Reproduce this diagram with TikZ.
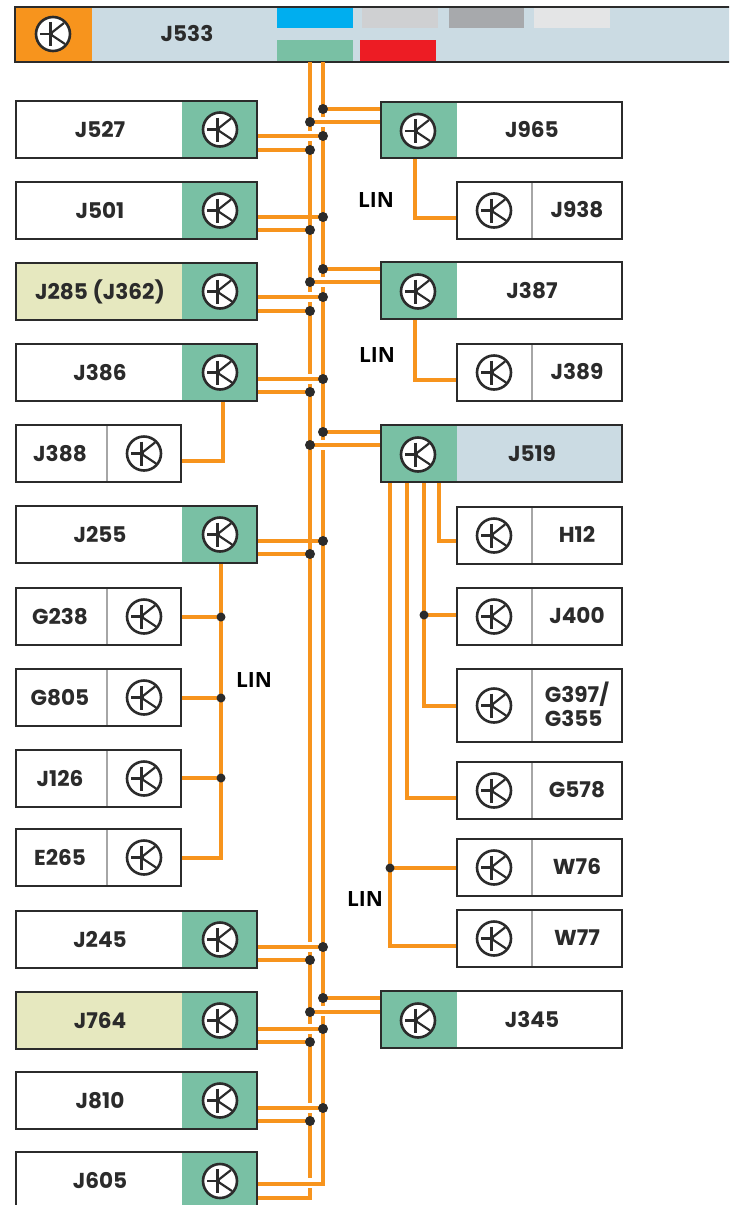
\documentclass[tikz,border=0pt]{standalone}
\usepackage{fontspec}
\setmainfont{Poppins}
\newfontfamily\linfont{Open Sans}
\definecolor{wire}{HTML}{F7941D}
\definecolor{grn}{HTML}{79C0A4}
\definecolor{pale}{HTML}{CBDBE3}
\definecolor{olive}{HTML}{E6E8BF}
\definecolor{ink}{HTML}{2B2B2B}
\definecolor{skyb}{HTML}{00AEEF}
\definecolor{redb}{HTML}{ED1C24}
\definecolor{gr1}{HTML}{CFD0D2}
\definecolor{gr2}{HTML}{A7A9AC}
\definecolor{gr3}{HTML}{E4E5E6}
\tikzset{
  wirel/.style={draw=wire,line width=3.6pt},
  frame/.style={draw=ink,line width=2.6pt},
  divline/.style={draw=gray!70,line width=2pt},
  lab/.style={font=\bfseries\fontsize{21.6}{24}\selectfont,text=ink,inner sep=0pt},
  linlab/.style={font=\linfont\bfseries\fontsize{21}{24}\selectfont,text=black,inner sep=0pt},
  dotj/.style={circle,fill=ink,inner sep=0pt,minimum size=10pt},
  dotk/.style={circle,fill=ink,inner sep=0pt,minimum size=9pt},
}
% \Tr{name}{x}{y}: transistor symbol
\newcommand{\Tr}[3]{%
  \node[circle,draw=ink,fill=white,line width=2.6pt,minimum size=34pt,inner sep=0pt] (#1) at (#2,#3) {};
  \draw[ink,line width=3pt] ([xshift=-3pt,yshift=12pt]#1.center) -- ([xshift=-3pt,yshift=-12pt]#1.center);
  \draw[ink,line width=2.2pt] ([xshift=-13pt]#1.center) -- ([xshift=0pt]#1.center);
  \draw[ink,line width=2.2pt] ([xshift=-3pt,yshift=0pt]#1.center) -- ([xshift=11pt,yshift=11pt]#1.center);
  \draw[ink,line width=2.2pt] ([xshift=-3pt,yshift=0pt]#1.center) -- ([xshift=12pt,yshift=-10pt]#1.center);
}
\newcommand{\LBig}[5]{%
  \fill[#5] (16,#3) rectangle (182,#4);
  \fill[grn] (182,#3) rectangle (257,#4);
  \path[frame] (16,#3) rectangle (257,#4);
  \node[lab] (n#1) at (100,{(#3+#4)/2}) {#2};
  \coordinate (b#1) at (257,{(#3+#4)/2});
  \Tr{t#1}{220}{{(#3+#4)/2}}
}
\newcommand{\RBig}[5]{%
  \fill[grn] (381,#3) rectangle (457,#4);
  \fill[#5] (457,#3) rectangle (622,#4);
  \path[frame] (381,#3) rectangle (622,#4);
  \node[lab] (n#1) at (532,{(#3+#4)/2}) {#2};
  \coordinate (b#1) at (381,{(#3+#4)/2});
  \Tr{t#1}{418}{{(#3+#4)/2+1}}
}
\newcommand{\LSmall}[4]{%
  \fill[white] (16,#3) rectangle (181,#4);
  \path[divline] (107,#3) -- (107,#4);
  \path[frame] (16,#3) rectangle (181,#4);
  \node[lab] (n#1) at (60,{(#3+#4)/2}) {#2};
  \coordinate (b#1) at (181,{(#3+#4)/2});
  \Tr{t#1}{144}{{(#3+#4)/2}}
}
\newcommand{\RSmall}[4]{%
  \fill[white] (457,#3) rectangle (622,#4);
  \path[divline] (532,#3) -- (532,#4);
  \path[frame] (457,#3) rectangle (622,#4);
  \node[lab,align=left] (n#1) at (577,{(#3+#4)/2-1}) {#2};
  \coordinate (b#1) at (457,{(#3+#4)/2});
  \Tr{t#1}{494}{{(#3+#4)/2}}
}
\begin{document}
\begin{tikzpicture}[x=1pt,y=-1pt]
\useasboundingbox (0,0) rectangle (729,1205);
\clip (0,0) rectangle (729,1205);
\fill[white] (0,0) rectangle (729,1205);
% J533
\fill[pale] (15,7) rectangle (735,62);
\fill[wire] (15,7) rectangle (92,62);
\fill[skyb] (277,7) rectangle (353,28);
\fill[gr1] (362,7) rectangle (438,28);
\fill[gr2] (449,7) rectangle (524,28);
\fill[gr3] (534,7) rectangle (610,28);
\fill[grn] (277,40) rectangle (353,61);
\fill[redb] (360,40) rectangle (436,61);
\path[frame] (15,7) rectangle (735,62);
\node[lab] (nJ533) at (187,34) {J533};
\Tr{tJ533}{53}{34}
\coordinate (top1) at (310,62);
\coordinate (top2) at (323,62);
% Bus wires, broken where a crossing wire passes
\path[wirel] (top1) -- (310,131) (310,141) -- (310,292) (310,302) -- (310,374) (310,384) -- (310,942) (310,952) -- (310,1024) (310,1034) -- (310,1103) (310,1113) -- (310,1178);
\path[wirel] (top2) -- (323,117) (323,127) -- (323,277) (323,287) -- (323,440) (323,450) -- (323,1006) (323,1016) -- (323,1184);
% Horizontal stubs
\foreach \ya/\yb in {136/150,217/230,297/311,379/392,541/554,947/960,1029/1042,1108/1121}{
  \path[wirel] (257,\ya) -- (323,\ya);
  \path[wirel] (257,\yb) -- (310,\yb);
  \node[dotj] (da\ya) at (323,\ya) {};
  \node[dotj] (db\yb) at (310,\yb) {};
}
\foreach \ya/\yb in {109/122,269/282,432/445,998/1012}{
  \path[wirel] (323,\ya) -- (381,\ya);
  \path[wirel] (310,\yb) -- (381,\yb);
  \node[dotj] (ra\ya) at (323,\ya) {};
  \node[dotj] (rb\yb) at (310,\yb) {};
}
\path[wirel] (257,1184) -- (323,1184) -- (323,1170);
\path[wirel] (257,1198) -- (310,1198) -- (310,1188);
% LIN wires
\path[wirel] (415,158) |- (457,218);
\path[wirel] (415,319) |- (457,380);
\path[wirel] (223,401) |- (181,461);
\path[wirel] (221,563) |- (181,858);
\path[wirel] (221,617) -- (181,617) (221,698) -- (181,698) (221,778) -- (181,778);
\node[dotk] (l1) at (221,617) {};
\node[dotk] (l2) at (221,698) {};
\node[dotk] (l3) at (221,778) {};
\path[wirel] (390,482) |- (457,946);
\path[wirel] (390,868) -- (457,868);
\node[dotk] (l4) at (390,868) {};
\path[wirel] (407,482) |- (457,798);
\path[wirel] (424,482) |- (457,706);
\path[wirel] (424,615) -- (457,615);
\node[dotk] (l5) at (424,615) {};
\path[wirel] (439,482) |- (457,541);
% Boxes
\LBig{J527}{J527}{101}{158}{white}
\LBig{J501}{J501}{182}{239}{white}
\LBig{J285}{J285 (J362)}{263}{320}{olive}
\LBig{J386}{J386}{344}{401}{white}
\LBig{J255}{J255}{506}{563}{white}
\LBig{J245}{J245}{911}{968}{white}
\LBig{J764}{J764}{992}{1049}{olive}
\LBig{J810}{J810}{1072}{1129}{white}
\LBig{J605}{J605}{1152}{1210}{white}
\LSmall{J388}{J388}{425}{482}
\LSmall{G238}{G238}{588}{645}
\LSmall{G805}{G805}{669}{726}
\LSmall{J126}{J126}{750}{807}
\LSmall{E265}{E265}{829}{886}
\RBig{J965}{J965}{102}{158}{white}
\RBig{J387}{J387}{262}{319}{white}
\RBig{J519}{J519}{425}{482}{pale}
\RBig{J345}{J345}{991}{1048}{white}
\RSmall{J938}{J938}{182}{239}
\RSmall{J389}{J389}{344}{401}
\RSmall{H12}{H12}{507}{564}
\RSmall{J400}{J400}{588}{645}
\RSmall{G397}{G397/\\G355}{669}{742}
\RSmall{G578}{G578}{762}{819}
\RSmall{W76}{W76}{839}{896}
\RSmall{W77}{W77}{910}{967}
% LIN labels
\node[linlab] (lin1) at (376,200) {LIN};
\node[linlab] (lin2) at (377,355) {LIN};
\node[linlab] (lin3) at (254,680) {LIN};
\node[linlab] (lin4) at (365,899) {LIN};
\end{tikzpicture}
\end{document}
